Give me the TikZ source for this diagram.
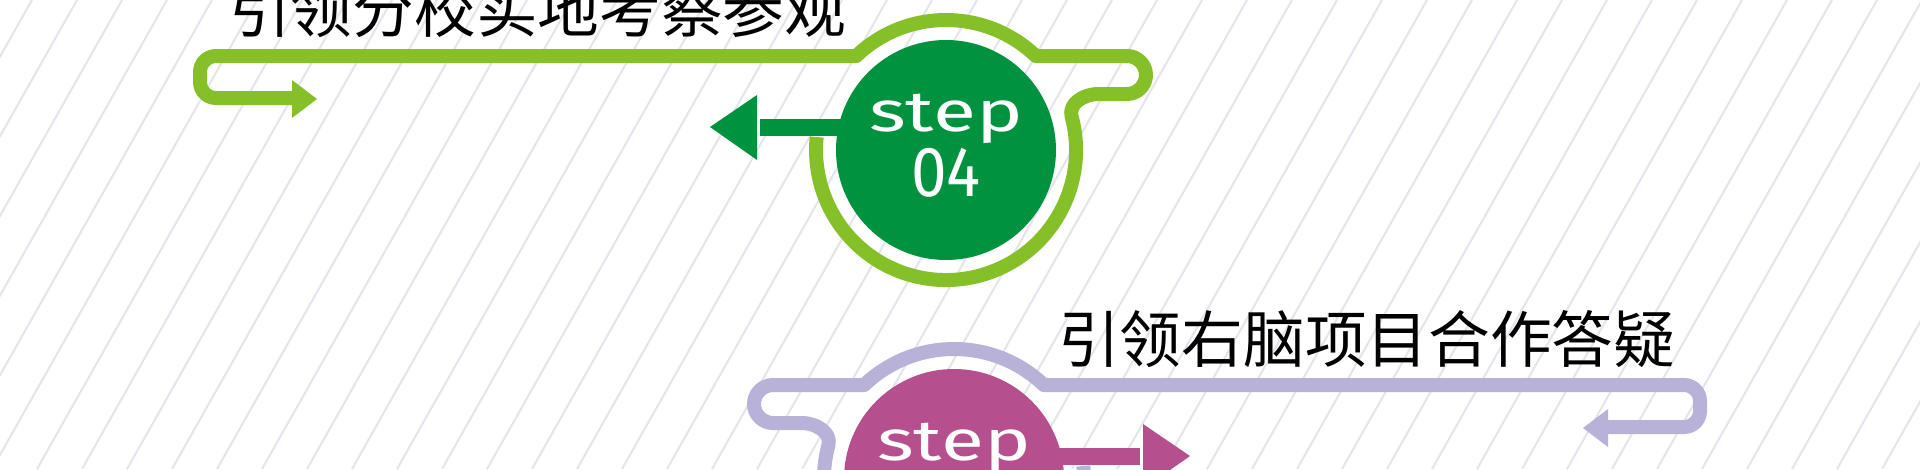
\documentclass[tikz,border=0pt]{standalone}
\usepackage{fontspec}
\newfontfamily\cjk{Noto Sans CJK SC}
\newfontfamily\stepfont{Fira Sans}
\definecolor{lgreen}{RGB}{134,192,40}
\definecolor{dgreen}{RGB}{0,146,63}
\definecolor{lpurple}{RGB}{184,178,216}
\definecolor{mag}{RGB}{182,79,141}
\definecolor{stripe}{RGB}{228,228,237}
\tikzset{
  track/.style={line width=14pt, line join=round},
  disc/.style={circle, inner sep=0pt, minimum size=220pt},
  steptext/.style={text=white, inner sep=0pt, anchor=base, xscale=1.38, font=\stepfont\fontsize{57}{57}\selectfont},
  numtext/.style={text=white, inner sep=0pt, anchor=base, xscale=0.9, font=\stepfont\fontsize{71}{71}\selectfont},
  title/.style={anchor=base west, inner sep=0pt, text=black, font=\cjk\fontsize{61.7}{62}\selectfont}
}
\begin{document}
\begin{tikzpicture}[x=1pt,y=1pt]
\useasboundingbox (0,0) rectangle (1920,-469);
\clip (0,0) rectangle (1920,-469);
\fill[white] (0,0) rectangle (1920,-469);
\foreach \k in {-2,...,50} {
  \draw[stripe, line width=2pt] ({32+45*\k},0) -- ({32+45*\k-265},-469);
}
% ---------- green step 04 ----------
\node[title] (t1) at (229,-32) {引领分校实地考察参观};
\node[disc, fill=dgreen] (g) at (946,-150) {};
\draw[lgreen, track]
  (292,-98) -- (216,-98) arc[start angle=270, end angle=180, radius=16]
  -- (200,-72) arc[start angle=180, end angle=90, radius=16]
  -- (856.2,-56) arc[start angle=133.69, end angle=46.31, radius=130]
  -- (1127,-56) arc[start angle=90, end angle=-90, radius=19]
  -- (1098,-94) to[out=180, in=105] (1071.6,-116.4)
  arc[start angle=15, end angle=-185.74, radius=130];
\coordinate (gatip) at (317,-99);
\fill[lgreen] (292,-80) -- (gatip) -- (292,-118) -- cycle;
\coordinate (gtip) at (710,-127);
\draw[dgreen, line width=17pt] (g.center |- gtip) -- (760,-127);
\fill[dgreen] (757,-95) -- (gtip) -- (757,-160) -- cycle;
\node[steptext] (gs) at (946,-131) {step};
\node[numtext] (gn) at (946,-196) {04};
% ---------- purple step ----------
\node[title] (t2) at (1058,-362) {引领右脑项目合作答疑};
\node[disc, fill=mag] (p) at (954,-479) {};
\draw[lpurple, track]
  (1608,-427) -- (1684,-427) arc[start angle=270, end angle=360, radius=16]
  -- (1700,-401) arc[start angle=0, end angle=90, radius=16]
  -- (1043.8,-385) arc[start angle=46.31, end angle=133.69, radius=130]
  -- (773,-385) arc[start angle=90, end angle=270, radius=19]
  -- (802,-423) to[out=0, in=75] (828.4,-445.4)
  arc[start angle=165, end angle=365.74, radius=130];
\coordinate (patip) at (1583,-428);
\fill[lpurple] (1608,-409) -- (patip) -- (1608,-447) -- cycle;
\coordinate (ptip) at (1190,-456);
\draw[mag, line width=17pt] (p.center |- ptip) -- (1140,-456);
\fill[mag] (1143,-424) -- (ptip) -- (1143,-489) -- cycle;
\node[steptext] (ps) at (954,-460) {step};
\end{tikzpicture}
\end{document}
